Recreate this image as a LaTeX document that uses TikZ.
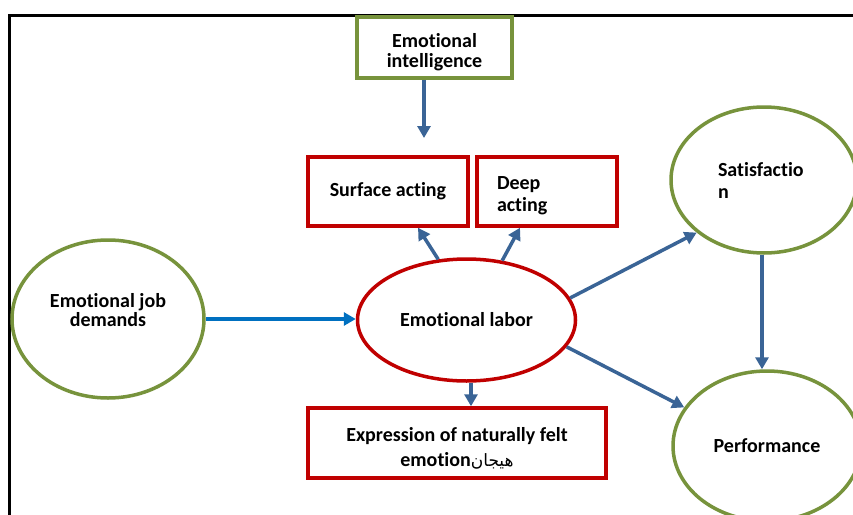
\documentclass[tikz,border=0pt]{standalone}
\usepackage{fontspec}
\setmainfont[Ligatures=NoCommon]{Carlito}
\newfontfamily\arabicfont[Script=Arabic]{DejaVu Sans}
\TeXXeTstate=1
\usetikzlibrary{shapes.geometric,arrows.meta}
\definecolor{boxgreen}{HTML}{77933C}
\definecolor{boxred}{HTML}{C00000}
\definecolor{arrblue}{HTML}{3A6496}
\definecolor{arrlight}{HTML}{0070C0}
\begin{document}
\begin{tikzpicture}[x=1pt,y=-1pt,
  every node/.style={font=\fontsize{20}{22}\selectfont\bfseries, inner sep=0pt},
  gbox/.style={draw=boxgreen, line width=3.5pt, rectangle, align=center},
  rbox/.style={draw=boxred, line width=3.5pt, rectangle, align=center},
  gell/.style={draw=boxgreen, line width=3.5pt, ellipse, align=center},
  rell/.style={draw=boxred, line width=3.5pt, ellipse, align=center},
  lbl/.style={align=center},
  conn/.style={draw=arrblue, line width=3.5pt, -{Triangle[length=12pt,width=13pt]}}
]
\useasboundingbox (0,0) rectangle (853,514);
\fill[white] (0,0) rectangle (853,514);
\draw[line width=3pt] (9,15) rectangle (880,540);

\node[gbox, minimum width=155, minimum height=61] (ei) at (434.5,47.5) {};
\node[lbl] (eit) at ([yshift=-4.5pt]ei.center) {Emotional\\[-2pt]intelligence};
\node[rbox, minimum width=160, minimum height=69] (sa) at (388,191.5) {Surface acting};
\node[rbox, minimum width=140, minimum height=69] (da) at (547,191.5) {};
\node[lbl, text width=100pt, align=left] (dat) at ([yshift=-4.5pt]da.center) {Deep\\acting};
\node[rell, minimum width=218, minimum height=122] (el) at (466.5,320) {Emotional labor};
\node[gell, minimum width=192, minimum height=158] (jd) at (108,319) {};
\node[lbl] (jdt) at ([yshift=8.5pt]jd.center) {Emotional job\\[-3pt]demands};
\node[gell, minimum width=186, minimum height=146, text width=92pt, align=left] (sat) at (764,180) {Satisfactio\\n};
\node[gell, minimum width=188, minimum height=150] (pf) at (767,446) {Performance};
\node[rbox, minimum width=298, minimum height=70] (ex) at (457,443) {};
\node[lbl] (ext) at ([yshift=-5pt]ex.center) {Expression of naturally felt\\[3pt]emotion{\arabicfont\mdseries\fontsize{17}{20}\selectfont\beginR هیجان\endR}};

\coordinate (eiend) at (424,138);
\draw[conn] ([xshift=-10.5pt]ei.south) -- (eiend);
\draw[conn, draw=arrlight] (jd.east) -- (jd.east -| el.west);
\draw[conn] (el.115) -- ([xshift=30pt]sa.south);
\draw[conn] (el.59) -- ([xshift=-27pt]da.south);
\draw[conn] (el.12) -- (sat.218);
\draw[conn] (el.345) -- (pf.155);
\draw[conn] ([xshift=-2pt]sat.south) -- ([xshift=-2pt]sat.south |- pf.north);
\draw[conn] ([xshift=4.5pt]el.south) -- ([xshift=4.5pt]el.south |- ex.north);
\end{tikzpicture}
\end{document}
